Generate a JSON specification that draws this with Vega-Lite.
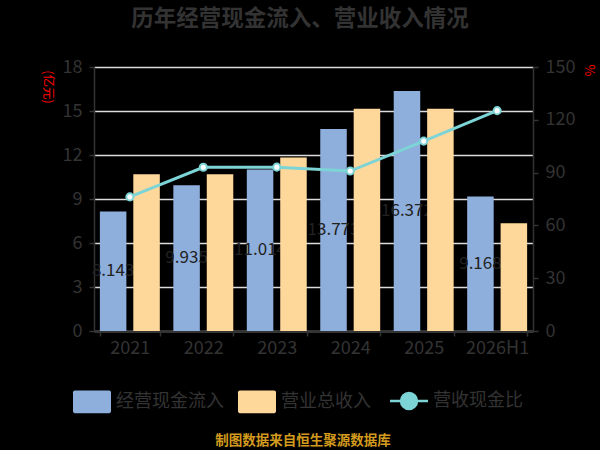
{
  "$schema": "https://vega.github.io/schema/vega-lite/v6.json",
  "background": "#000000",
  "autosize": "none",
  "width": 439,
  "height": 264,
  "padding": {"left": 94, "top": 67, "right": 67, "bottom": 119},
  "title": {
    "text": "历年经营现金流入、营业收入情况",
    "font": "Noto Sans CJK SC",
    "fontSize": 22.5,
    "fontWeight": "bold",
    "color": "#333333",
    "anchor": "middle",
    "dx": -13.5,
    "offset": 28
  },
  "data": {
    "values": [
      {"year": "2021", "cash": 8.143, "revenue": 10.68, "ratio": 76.2},
      {"year": "2022", "cash": 9.935, "revenue": 10.68, "ratio": 93.0},
      {"year": "2023", "cash": 11.014, "revenue": 11.83, "ratio": 93.1},
      {"year": "2024", "cash": 13.773, "revenue": 15.16, "ratio": 90.9},
      {"year": "2025", "cash": 16.372, "revenue": 15.16, "ratio": 107.9},
      {"year": "2026H1", "cash": 9.168, "revenue": 7.35, "ratio": 125.2}
    ]
  },
  "encoding": {
    "x": {
      "field": "year",
      "type": "nominal",
      "sort": null,
      "scale": {"paddingInner": 0.184, "paddingOuter": 0.08},
      "axis": {
        "title": null,
        "labelAngle": 0,
        "labelFontSize": 18,
        "labelColor": "#333333",
        "labelPadding": 3,
        "tickBand": "extent",
        "tickSize": 5,
        "tickWidth": 1.5,
        "tickColor": "#333333",
        "domainColor": "#333333",
        "domainWidth": 1.5,
        "grid": false
      }
    }
  },
  "layer": [
    {
      "layer": [
        {
          "mark": {"type": "bar"},
          "encoding": {
            "xOffset": {
              "datum": "经营现金流入",
              "type": "nominal",
              "scale": {"domain": ["经营现金流入", "营业总收入"], "paddingInner": 0.207, "paddingOuter": 0}
            },
            "y": {
              "field": "cash",
              "type": "quantitative",
              "scale": {"domain": [0, 18], "nice": false},
              "axis": {
                "title": "(亿元)",
                "titleColor": "#ff0000",
                "titleFontSize": 12.5,
                "titleFontWeight": "normal",
                "titleAngle": 90,
                "titleAlign": "center",
                "titleBaseline": "middle",
                "titleX": -46.5,
                "titleY": 19.5,
                "values": [0, 3, 6, 9, 12, 15, 18],
                "labelFontSize": 18,
                "labelColor": "#333333",
                "labelPadding": 7,
                "tickSize": 5,
                "tickWidth": 1.5,
                "tickColor": "#333333",
                "domainColor": "#333333",
                "domainWidth": 1.5,
                "grid": true,
                "gridColor": "#dcdcdc",
                "gridWidth": 1.5
              }
            },
            "color": {
              "datum": "经营现金流入",
              "type": "nominal",
              "scale": {
                "domain": ["经营现金流入", "营业总收入", "营收现金比"],
                "range": ["#8eaedc", "#fed89a", "#7dd4d6"]
              },
              "legend": {
                "title": "制图数据来自恒生聚源数据库",
                "titleOrient": "bottom",
                "titleAnchor": "middle",
                "titleFont": "Noto Sans CJK SC",
                "titleFontSize": 13.5,
                "titleFontWeight": "bold",
                "titleColor": "#d29a1e",
                "titlePadding": 20,
                "titleLimit": 400,
                "orient": "none",
                "legendX": -11,
                "legendY": 325,
                "direction": "horizontal",
                "labelFont": "Noto Sans CJK SC",
                "labelFontSize": 18,
                "labelColor": "#333333",
                "labelOffset": 15,
                "columnPadding": 14,
                "symbolSize": 1444,
                "encode": {
                  "symbols": {
                    "update": {
                      "shape": {"signal": "datum.value === '营收现金比' ? 'M-1,0H-0.42M0.42,0H1M-0.42,0A0.42,0.42,0,1,0,0.42,0A0.42,0.42,0,1,0,-0.42,0Z' : 'M-0.9,-0.6H0.9A0.1,0.1,0,0,1,1,-0.5V0.5A0.1,0.1,0,0,1,0.9,0.6H-0.9A0.1,0.1,0,0,1,-1,0.5V-0.5A0.1,0.1,0,0,1,-0.9,-0.6Z'"},
                      "fill": {"signal": "datum.value === '营收现金比' ? '#ffffff' : scale('color', datum.value)"},
                      "stroke": {"signal": "scale('color', datum.value)"},
                      "strokeWidth": {"signal": "datum.value === '营收现金比' ? 2.5 : 0"},
                      "opacity": {"value": 1},
                      "fillOpacity": {"value": 1},
                      "size": {"value": 1444}
                    }
                  }
                }
              }
            }
          }
        },
        {
          "transform": [{"calculate": "datum.cash / 2", "as": "mid"}],
          "mark": {
            "type": "text",
            "font": "Noto Sans CJK SC",
            "fontSize": 17,
            "color": "#222222",
            "align": "center",
            "baseline": "middle"
          },
          "encoding": {
            "xOffset": {"datum": "经营现金流入", "type": "nominal"},
            "y": {"field": "mid", "type": "quantitative"},
            "text": {"field": "cash", "type": "quantitative", "format": ".3f"}
          }
        },
        {
          "mark": {"type": "bar"},
          "encoding": {
            "xOffset": {"datum": "营业总收入", "type": "nominal"},
            "y": {"field": "revenue", "type": "quantitative"},
            "color": {"datum": "营业总收入", "type": "nominal"}
          }
        }
      ]
    },
    {
      "layer": [
        {
          "mark": {"type": "line", "strokeWidth": 3},
          "encoding": {
            "y": {
              "field": "ratio",
              "type": "quantitative",
              "scale": {"domain": [0, 150], "nice": false},
              "axis": {
                "orient": "right",
                "title": "%",
                "titleColor": "#ff0000",
                "titleFontSize": 13,
                "titleFontWeight": "normal",
                "titleAngle": 90,
                "titleAlign": "center",
                "titleBaseline": "middle",
                "titleX": 55,
                "titleY": 3,
                "values": [0, 30, 60, 90, 120, 150],
                "labelFontSize": 18,
                "labelColor": "#333333",
                "labelPadding": 7,
                "tickSize": 5,
                "tickWidth": 1.5,
                "tickColor": "#333333",
                "domainColor": "#333333",
                "domainWidth": 1.5,
                "grid": false
              }
            },
            "color": {"datum": "营收现金比", "type": "nominal"}
          }
        },
        {
          "mark": {
            "type": "point",
            "filled": true,
            "fill": "#ffffff",
            "stroke": "#7dd4d6",
            "strokeWidth": 2,
            "size": 50,
            "opacity": 1
          },
          "encoding": {
            "y": {"field": "ratio", "type": "quantitative"}
          }
        }
      ]
    }
  ],
  "resolve": {"scale": {"y": "independent"}},
  "config": {
    "font": "Noto Sans CJK SC",
    "view": {"stroke": null},
    "axis": {"labelFont": "Noto Sans CJK SC", "titleFont": "Noto Sans CJK SC"}
  }
}
